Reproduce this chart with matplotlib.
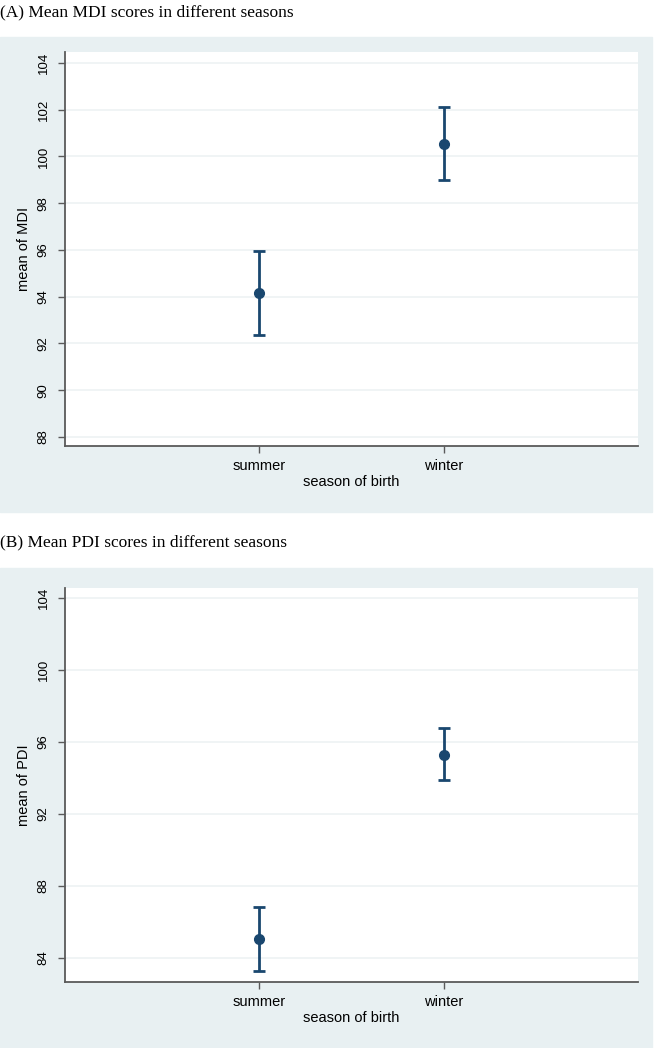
import matplotlib.pyplot as plt
from matplotlib.patches import Rectangle

# data
seasons = ["summer", "winter"]
mdi_mean = [94.17, 100.54]
mdi_low = [92.37, 98.98]
mdi_high = [95.94, 102.10]
pdi_mean = [85.05, 95.28]
pdi_low = [83.28, 93.89]
pdi_high = [86.83, 96.78]
mdi_ticks = [88, 90, 92, 94, 96, 98, 100, 102, 104]
pdi_ticks = [84, 88, 92, 96, 100, 104]

W, H = 656, 1048
BG = "#e8f0f2"
NAVY = "#1a476f"
GRID = "#edf2f3"
AXIS = "#5a5a5a"

plt.rcParams["font.family"] = ["Liberation Sans", "DejaVu Sans"]

fig = plt.figure(figsize=(W / 100, H / 100), dpi=100)


def px_box(left, top, right, bottom):
    return [left / W, 1 - bottom / H, (right - left) / W, (bottom - top) / H]


def draw_panel(bg_top, bg_bottom, box, means, lows, highs, ticks, ylim, ylabel, title, title_y):
    # light Stata-style graph region behind each panel
    fig.patches.append(Rectangle((0, 1 - bg_bottom / H), 652 / W, (bg_bottom - bg_top) / H,
                                 transform=fig.transFigure, color=BG, zorder=-5))
    fig.text(0 / W, 1 - title_y / H, title, family="Liberation Serif", fontsize=12.5,
             ha="left", va="center")

    ax = fig.add_axes(px_box(*box))
    ax.set_zorder(2)
    x = [1, 2]
    err = [[m - lo for m, lo in zip(means, lows)], [hi - m for m, hi in zip(means, highs)]]
    ax.errorbar(x, means, yerr=err, fmt="o", color=NAVY, ms=7, elinewidth=2,
                capsize=4.5, capthick=2, zorder=3)

    ax.set_xlim(1.5 - 1.553, 1.5 + 1.553)
    ax.set_ylim(*ylim)
    ax.set_xticks(x)
    ax.set_xticklabels(seasons, fontsize=10.5)
    ax.set_yticks(ticks)
    ax.set_yticklabels([str(t) for t in ticks], fontsize=9.5, rotation=90, va="center")
    ax.grid(axis="y", color=GRID, lw=1.2, zorder=0)
    ax.set_axisbelow(True)
    for s in ["top", "right"]:
        ax.spines[s].set_visible(False)
    for s in ["left", "bottom"]:
        ax.spines[s].set_color(AXIS)
        ax.spines[s].set_linewidth(1.3)
    ax.tick_params(axis="both", direction="out", length=5, width=1, color=AXIS, pad=6)
    ax.tick_params(axis="x", pad=4)
    ax.set_ylabel(ylabel, fontsize=10.5, labelpad=5)
    ax.set_xlabel("season of birth", fontsize=10.5, labelpad=2)


draw_panel(37, 512, (65, 52, 638, 446), mdi_mean, mdi_low, mdi_high, mdi_ticks,
           (87.61, 104.47), "mean of MDI", "(A) Mean MDI scores in different seasons", 12)
draw_panel(568, 1048, (65, 588, 638, 982), pdi_mean, pdi_low, pdi_high, pdi_ticks,
           (82.67, 104.56), "mean of PDI", "(B) Mean PDI scores in different seasons", 542)

fig.savefig("out.png", dpi=100)
